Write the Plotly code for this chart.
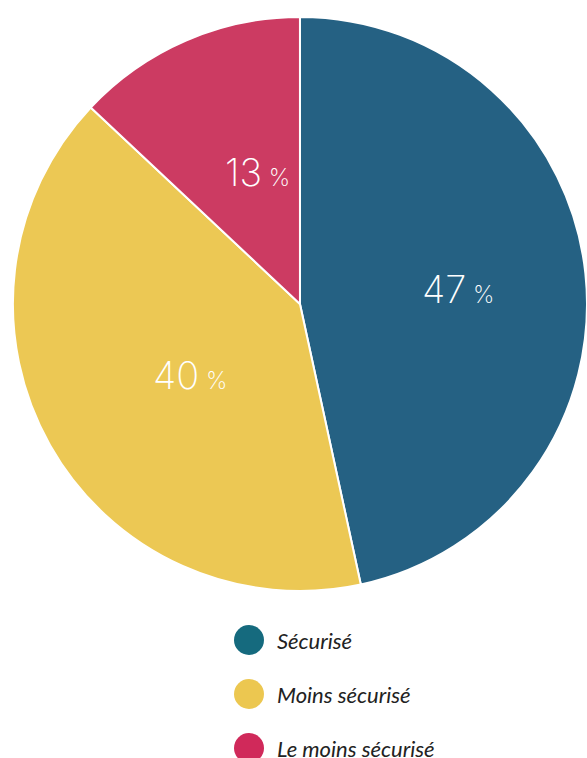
import math
import plotly.graph_objects as go

categories = ["Sécurisé", "Moins sécurisé", "Le moins sécurisé"]
values = [46.6, 40.4, 13.0]
slice_colors = ["#256183", "#ECC854", "#CC3B62"]
legend_colors = ["#156A7E", "#ECC750", "#D0295A"]

W, H = 587, 758
dom_x = [0.022, 1.0]
dom_y = [0.219, 0.979]

fig = go.Figure()
fig.add_trace(go.Pie(
    labels=categories,
    values=values,
    sort=False,
    direction="clockwise",
    rotation=0,
    marker=dict(colors=slice_colors, line=dict(color="white", width=2)),
    textinfo="none",
    hoverinfo="label+percent",
    showlegend=False,
    domain=dict(x=dom_x, y=dom_y),
))

# Value labels: number centred at half radius on each slice's mid-angle
cx = (dom_x[0] + dom_x[1]) / 2 * W
cy = H - (dom_y[0] + dom_y[1]) / 2 * H
R = min((dom_x[1] - dom_x[0]) * W, (dom_y[1] - dom_y[0]) * H) / 2
total = sum(values)
cum = 0.0
for v in values:
    mid = (cum + v / 2) / total * 2 * math.pi
    cum += v
    px = cx + 0.5 * R * math.sin(mid)
    py = cy - 0.5 * R * math.cos(mid)
    fig.add_annotation(
        xref="paper", yref="paper", x=px / W, y=1 - py / H,
        xanchor="center", yanchor="middle", xshift=15, showarrow=False,
        text=f"{round(v)}<span style='font-size:24px'> %</span>",
        font=dict(family="Inter", size=38, color="white", weight=200),
    )

# Custom legend with circle markers
legend_y = [640, 694, 748]
for name, col, yy in zip(categories, legend_colors, legend_y):
    r = 15
    fig.add_shape(type="circle", xref="paper", yref="paper",
                  x0=(249 - r) / W, x1=(249 + r) / W,
                  y0=1 - (yy + r) / H, y1=1 - (yy - r) / H,
                  fillcolor=col, line=dict(width=0))
    fig.add_annotation(xref="paper", yref="paper", x=275 / W, y=1 - yy / H,
                       xanchor="left", yanchor="middle", showarrow=False,
                       text=f"<i>{name}</i>",
                       font=dict(family="Lato", size=22, color="#222222"))

fig.update_layout(
    width=W, height=H,
    margin=dict(l=0, r=0, t=0, b=0),
    paper_bgcolor="white",
    plot_bgcolor="white",
)

fig.write_html("out.html")
